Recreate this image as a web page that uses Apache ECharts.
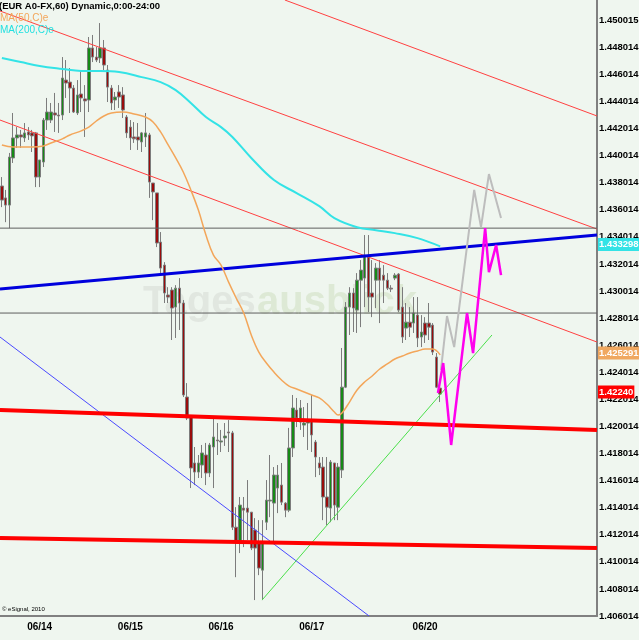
<!DOCTYPE html>
<html>
<head>
<meta charset="utf-8">
<script src="https://cdn.jsdelivr.net/npm/echarts@6/dist/echarts.min.js"></script>
<style>
  html, body { margin: 0; padding: 0; background: #eff6ef; }
  #chart { width: 639px; height: 640px; }
</style>
</head>
<body>
<div id="chart"></div>
<script>
// EUR A0-FX, 60 min Kerzen
const opens = [1.43776,1.43688,1.43635,1.43983,1.44131,1.44153,1.44131,1.44175,1.44168,1.44168,
  1.43842,1.43953,1.44263,1.44263,1.44315,1.44300,1.44300,1.44558,1.44543,1.44499,
  1.44315,1.44455,1.44419,1.44411,1.44795,1.44728,1.44721,1.44795,1.44632,1.44499,
  1.44411,1.44470,1.44448,1.44285,1.44211,1.44138,1.44138,1.44101,1.44138,1.44153,
  1.43798,1.43725,1.43362,1.43192,1.42971,1.43008,1.42882,1.43022,1.42912,1.42218,
  1.42070,1.41731,1.41664,1.41716,1.41790,1.41657,1.41849,1.41901,1.41886,1.41916,
  1.41960,1.41953,1.41257,1.41140,1.41398,1.41398,1.41368,1.41236,1.41147,1.40940,
  1.41294,1.41450,1.41435,1.41546,1.41568,1.41435,1.41383,1.41842,1.42122,1.42033,
  1.42011,1.42026,1.42048,1.41886,1.41731,1.41701,1.41480,1.41398,1.41731,1.41405,
  1.41679,1.42291,1.42882,1.42986,1.42860,1.43081,1.43096,1.43251,1.42986,1.43081,
  1.43170,1.43118,1.43081,1.43022,1.43096,1.43126,1.42882,1.42727,1.42771,1.42764,
  1.42823,1.42661,1.42764,1.42764,1.42749,1.42513,1.42284]
const closes = [1.43672,1.43635,1.43990,1.44131,1.44153,1.44138,1.44168,1.44153,1.44146,1.43842,
  1.43968,1.44263,1.44322,1.44322,1.44300,1.44293,1.44573,1.44536,1.44499,1.44322,
  1.44448,1.44426,1.44404,1.44795,1.44728,1.44706,1.44795,1.44669,1.44506,1.44389,
  1.44433,1.44433,1.44337,1.44168,1.44131,1.44124,1.44116,1.44168,1.44168,1.43805,
  1.43732,1.43355,1.43170,1.42986,1.42956,1.42875,1.43022,1.42912,1.42233,1.42063,
  1.41694,1.41664,1.41731,1.41805,1.41657,1.41864,1.41923,1.41894,1.41894,1.41930,
  1.41953,1.41257,1.41147,1.41420,1.41383,1.41368,1.41103,1.41103,1.40955,1.41140,
  1.41457,1.41457,1.41642,1.41642,1.41442,1.41383,1.41842,1.42137,1.42063,1.42137,
  1.42026,1.42048,1.41938,1.41775,1.41694,1.41480,1.41405,1.41738,1.41420,1.41701,
  1.42291,1.42882,1.42986,1.42875,1.43081,1.43155,1.43266,1.42956,1.42956,1.43170,
  1.43081,1.43081,1.43022,1.43015,1.43118,1.42860,1.42661,1.42771,1.42734,1.42838,
  1.42654,1.42698,1.42676,1.42734,1.42550,1.42291,1.42240]
const lows = [1.43620,1.43509,1.43465,1.43946,1.44057,1.44057,1.44101,1.44116,1.44027,1.43768,
  1.43768,1.43916,1.44190,1.44241,1.44175,1.44168,1.44263,1.44426,1.44315,1.44315,
  1.44300,1.44322,1.44138,1.44322,1.44691,1.44691,1.44684,1.44632,1.44396,1.44337,
  1.44337,1.44352,1.44278,1.44131,1.44042,1.44094,1.44042,1.44027,1.44064,1.43688,
  1.43524,1.43325,1.43133,1.42912,1.42912,1.42639,1.42654,1.42713,1.42218,1.42048,
  1.41546,1.41568,1.41620,1.41620,1.41568,1.41627,1.41546,1.41790,1.41812,1.41857,
  1.41812,1.41236,1.40888,1.41066,1.41110,1.41162,1.41088,1.40719,1.40903,1.40719,
  1.41236,1.41331,1.41140,1.41361,1.41420,1.41331,1.41368,1.41775,1.41996,1.41975,
  1.41923,1.41827,1.41812,1.41627,1.41642,1.41309,1.41272,1.41294,1.41309,1.41309,
  1.41620,1.42284,1.42676,1.42698,1.42691,1.42734,1.42882,1.42845,1.42808,1.42875,
  1.42764,1.42912,1.43008,1.42993,1.43081,1.42845,1.42617,1.42639,1.42661,1.42691,
  1.42587,1.42587,1.42617,1.42639,1.42528,1.42284,1.42181]
const highs = [1.43842,1.43747,1.44020,1.44315,1.44211,1.44190,1.44241,1.44211,1.44190,1.44175,
  1.43968,1.44278,1.44426,1.44389,1.44463,1.44389,1.44728,1.44706,1.44647,1.44521,
  1.44558,1.44632,1.44521,1.44876,1.44891,1.44802,1.44979,1.44854,1.44669,1.44521,
  1.44470,1.44521,1.44506,1.44300,1.44263,1.44248,1.44241,1.44175,1.44315,1.44168,
  1.43798,1.43725,1.43436,1.43214,1.43029,1.43029,1.43044,1.43096,1.42934,1.42321,
  1.42085,1.41849,1.41790,1.41864,1.41879,1.41879,1.42063,1.42026,1.41975,1.42026,
  1.42048,1.41968,1.41405,1.41480,1.41480,1.41605,1.41368,1.41324,1.41309,1.41309,
  1.41605,1.41790,1.41701,1.41716,1.41731,1.41442,1.41990,1.42233,1.42211,1.42196,
  1.42144,1.42174,1.42233,1.41901,1.41775,1.41775,1.41775,1.41753,1.41731,1.41731,
  1.42580,1.42919,1.43029,1.43022,1.43133,1.43229,1.43414,1.43414,1.43229,1.43207,
  1.43229,1.43192,1.43133,1.43044,1.43133,1.43133,1.43029,1.42912,1.42882,1.42956,
  1.42956,1.42823,1.42808,1.42912,1.42764,1.42543,1.42291]

// gleitende Durchschnitte (Stützpunkte je Kerzen-Index)
const ma50Idx = [0,3,8,11,13,16,18,21,23,25,27,29,32,35,38,40,42,44,46,48,50,52,54,56,58,60,62,64,66,68,
  70,72,74,76,78,80,82,84,86,88,89,90,92,94,96,98,100,102,104,106,108,110,112,114,116]
const ma50 = [1.44079,1.44064,1.44064,1.44072,1.44094,1.44124,1.44153,1.44183,1.44211,1.44256,
  1.44293,1.44315,1.44322,1.44308,1.44285,1.44248,1.44175,1.44079,1.43983,1.43879,
  1.43747,1.43598,1.43414,1.43266,1.43192,1.43066,1.42949,1.42838,1.42676,1.42550,
  1.42469,1.42402,1.42344,1.42299,1.42277,1.42255,1.42233,1.42211,1.42166,1.42107,
  1.42085,1.42100,1.42181,1.42270,1.42329,1.42373,1.42425,1.42462,1.42499,1.42521,
  1.42543,1.42558,1.42572,1.42572,1.42529]
const ma200Idx = [0,5,10,16,21,26,31,37,42,46,50,54,58,61,66,72,78,84,88,94,99,104,110,116]
const ma200 = [1.44721,1.44691,1.44662,1.44640,1.44625,1.44625,1.44617,1.44580,1.44543,1.44484,
  1.44389,1.44285,1.44211,1.44138,1.43983,1.43820,1.43724,1.43627,1.43539,1.43472,
  1.43450,1.43428,1.43391,1.43330]

// Kursmarken rechts: [wert, text, farbe]
const priceTags = [
  [1.433298, '1.433298', '#33e3e6'],
  [1.425291, '1.425291', '#f0a860'],
  [1.42240, '1.42240', '#ff0000']
]

// Achsen
const N_SLOTS = 158
const Y_MIN = 1.406014
const Y_MAX = 1.451492
const yTicks = ['1.406014','1.408014','1.410014','1.412014','1.414014','1.416014','1.418014','1.420014',
  '1.422014','1.424014','1.426014','1.428014','1.430014','1.432014','1.434014','1.436014','1.438014',
  '1.440014','1.442014','1.444014','1.446014','1.448014','1.450015']
const dayLabels = { 10: '06/14', 34: '06/15', 58: '06/16', 82: '06/17', 112: '06/20' }

// Linien: [idx0, kurs0, idx1, kurs1]
const redChannel = [
  [74.9, 1.45149, 157.5, 1.44293],
  [-0.5, 1.45068, 157.5, 1.43458],
  [-0.5, 1.44263, 157.5, 1.42624]
]
const redSupport = [
  [-0.5, 1.42122, 157.5, 1.41975],
  [-0.5, 1.41177, 157.5, 1.41103]
]
const blueThick = [-0.5, 1.43015, 157.5, 1.43414]
const blueThin = [-0.5, 1.42661, 97.2, 1.40601]
const greenTrend = [68.85, 1.40719, 129.7, 1.42676]
const hLevels = [1.43465, 1.42838]

// Prognose-Zickzack
const magX = [115.4, 116.8, 118.9, 123.1, 124.7, 127.9, 128.9, 130.8, 132.1]
const magY = [1.42248, 1.42469, 1.41864, 1.42838, 1.42543, 1.43465, 1.43140, 1.43340, 1.43118]
const greyX = [116.2, 117.8, 119.7, 125.0, 126.8, 128.9, 132.1]
const greyY = [1.42418, 1.42816, 1.42587, 1.43747, 1.43472, 1.43864, 1.43539]

const slots = []
for (let i = 0; i < N_SLOTS; i++) slots.push(String(i))
const candles = opens.map((o, i) => [o, closes[i], lows[i], highs[i]])

function seg(p, color, width) {
  return {
    type: 'line', xAxisIndex: 1, symbol: 'none', silent: true,
    data: [[p[0], p[1]], [p[2], p[3]]],
    lineStyle: { color: color, width: width }
  }
}

const myChart = echarts.init(document.getElementById('chart'))

const staticGraphic = [
  { type: 'text', left: 143, top: 283, z: 0, silent: true,
    style: { text: 'Tages', font: 'bold 40px "Liberation Sans"', fill: '#e1e7e0' } },
  { type: 'text', left: 257, top: 283, z: 0, silent: true,
    style: { text: 'ausblick', font: 'bold 40px "Liberation Sans"', fill: '#dde9d5' } },
  { type: 'text', left: -1, top: 1, z: 100,
    style: { text: '(EUR A0-FX,60) Dynamic,0:00-24:00', font: 'bold 9.5px "Liberation Sans"', fill: '#000' } },
  { type: 'text', left: 0, top: 13, z: 100,
    style: { text: 'MA(50,C)e', font: '10px "Liberation Sans"', fill: '#f3a65a' } },
  { type: 'text', left: 0, top: 25, z: 100,
    style: { text: 'MA(200,C)e', font: '10px "Liberation Sans"', fill: '#22e0e0' } },
  { type: 'text', left: 2, top: 606, z: 100,
    style: { text: '\u00a9 eSignal, 2010', font: '6px "Liberation Sans"', fill: '#000' } }
]

const option = {
  backgroundColor: '#eff6ef',
  animation: false,
  grid: { left: 0, right: 42, top: 0, bottom: 24, containLabel: false, outerBoundsMode: 'none' },
  xAxis: [{
    type: 'category',
    data: slots,
    boundaryGap: true,
    axisLine: { onZero: false, lineStyle: { color: '#808080', width: 2 } },
    axisTick: { show: false },
    axisLabel: {
      interval: (i) => dayLabels[i] !== undefined,
      formatter: (v, i) => dayLabels[i] || '',
      color: '#000', fontWeight: 'bold', fontSize: 10,
      fontFamily: 'Liberation Sans', margin: 6
    },
    splitLine: { show: false }
  }, {
    type: 'value', min: -0.5, max: N_SLOTS - 0.5, show: false
  }],
  yAxis: {
    type: 'value',
    position: 'right',
    min: Y_MIN, max: Y_MAX, interval: 0.002,
    axisLine: { show: true, onZero: false, lineStyle: { color: '#808080', width: 2 } },
    axisTick: { show: false },
    splitLine: { show: false },
    axisLabel: {
      showMaxLabel: false,
      margin: 2,
      color: '#000', fontWeight: 'bold', fontSize: 9.5, fontFamily: 'Liberation Sans',
      formatter: (v) => yTicks[Math.round((v - Y_MIN) / 0.002)] || ''
    }
  },
  graphic: staticGraphic,
  series: [
    ...redChannel.map(p => seg(p, '#ff4040', 1)),
    ...hLevels.map(v => seg([-0.5, v, N_SLOTS - 0.5, v], '#5e5e5e', 1)),
    seg(blueThick, '#0000dd', 3),
    seg(blueThin, '#4a4aff', 1),
    seg(greenTrend, '#4ae04a', 1),
    ...redSupport.map(p => seg(p, '#ff0000', 4)),
    {
      name: 'EUR A0-FX',
      type: 'candlestick',
      data: candles,
      barWidth: 3,
      itemStyle: {
        color: '#168a16', color0: '#9a0c0c',
        borderColor: '#7c7c7c', borderColor0: '#7c7c7c', borderWidth: 1
      }
    },
    {
      name: 'MA(200,C)e',
      type: 'line', xAxisIndex: 1, symbol: 'none', smooth: 0.4, silent: true,
      data: ma200Idx.map((x, k) => [x, ma200[k]]),
      lineStyle: { color: '#33e3e6', width: 2 }
    },
    {
      name: 'MA(50,C)e',
      type: 'line', xAxisIndex: 1, symbol: 'none', smooth: 0.4, silent: true,
      data: ma50Idx.map((x, k) => [x, ma50[k]]),
      lineStyle: { color: '#f3a65a', width: 1.5 }
    },
    {
      type: 'line', xAxisIndex: 1, symbol: 'none', silent: true,
      data: greyX.map((x, k) => [x, greyY[k]]),
      lineStyle: { color: '#bdbdbd', width: 2 }
    },
    {
      type: 'line', xAxisIndex: 1, symbol: 'none', silent: true,
      data: magX.map((x, k) => [x, magY[k]]),
      lineStyle: { color: '#ff00ee', width: 2.5 }
    }
  ]
}

myChart.setOption(option)

// Kursmarken an der Preisachse, Position über die y-Skala
const tagGraphic = priceTags.map(t => ({
  type: 'text', z: 120, silent: true,
  x: 598,
  y: myChart.convertToPixel({ yAxisIndex: 0 }, t[0]) - 2,
  style: {
    text: t[1], font: 'bold 9.5px "Liberation Sans"', fill: '#fff',
    backgroundColor: t[2], padding: [2, 1, 1, 1], verticalAlign: 'middle'
  }
}))
myChart.setOption({ graphic: staticGraphic.concat(tagGraphic) })
</script>
</body>
</html>
